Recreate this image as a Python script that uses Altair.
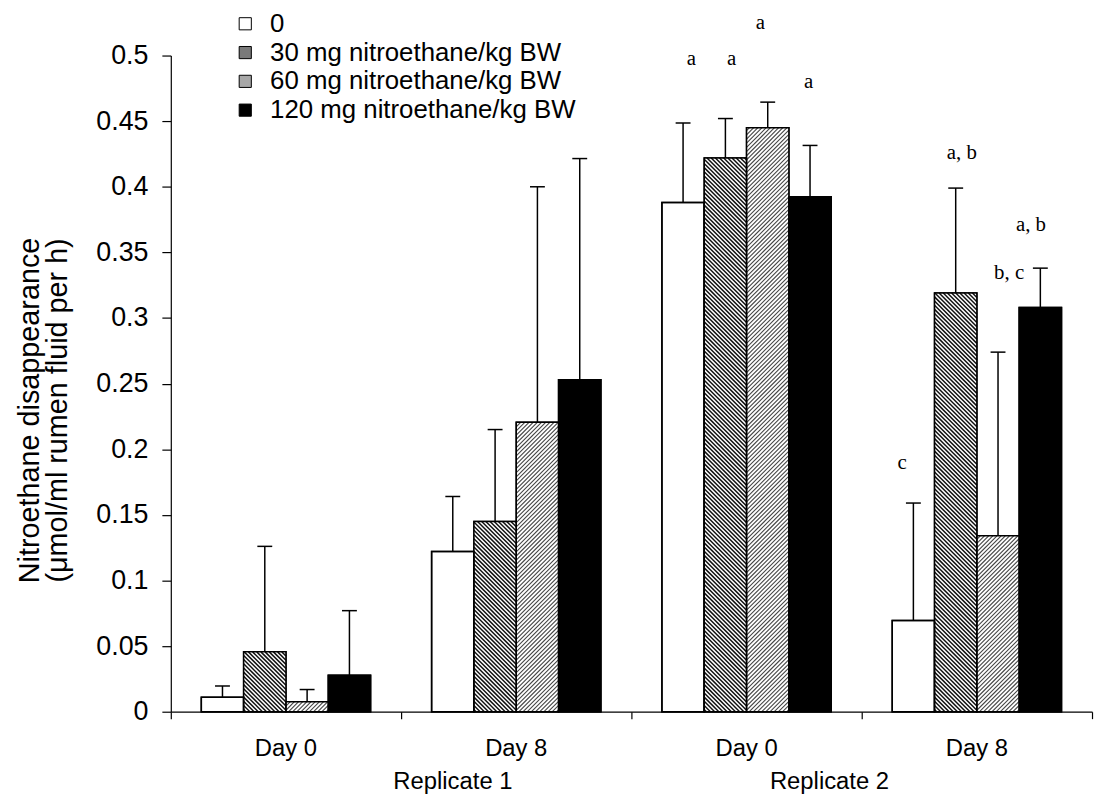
import altair as alt
import pandas as pd

# ---------------- data ----------------
groups = ["Day 0", "Day 8", "Day 0", "Day 8"]
replicates = ["Replicate 1", "Replicate 2"]
replicate_pos = [1.225, 2.86]          # label anchor, in category units

series = ["0", "30 mg nitroethane/kg BW", "60 mg nitroethane/kg BW", "120 mg nitroethane/kg BW"]

mean_0 = [0.011, 0.122, 0.388, 0.0695]
mean_30 = [0.0456, 0.145, 0.422, 0.319]
mean_60 = [0.0076, 0.2205, 0.445, 0.134]
mean_120 = [0.0277, 0.253, 0.3925, 0.308]

se_0 = [0.0086, 0.042, 0.0606, 0.0895]
se_30 = [0.0804, 0.070, 0.030, 0.080]
se_60 = [0.0093, 0.1795, 0.0195, 0.140]
se_120 = [0.0493, 0.1685, 0.039, 0.030]

letter_text = ["a", "a", "a", "a", "c", "a, b", "b, c", "a, b"]
letter_x = [2.26, 2.435, 2.56, 2.77, 3.175, 3.435, 3.64, 3.735]
letter_y = [0.4977, 0.4977, 0.5245, 0.480, 0.1896, 0.426, 0.334, 0.371]

yticks = [0, 0.05, 0.1, 0.15, 0.2, 0.25, 0.3, 0.35, 0.4, 0.45, 0.5]

# ---------------- layout ----------------
W, H = 928, 661
SX = W / 4.0          # px per category unit
SY = H / 0.5          # px per y unit
BW = 43 / 234         # bar width in category units

means = [mean_0, mean_30, mean_60, mean_120]
ses = [se_0, se_30, se_60, se_120]

rows = []
for i in range(4):
    for j, s in enumerate(series):
        x0 = i + 0.5 - 2 * BW + j * BW
        rows.append(dict(series=s, x0=x0, x1=x0 + BW, xc=x0 + BW / 2,
                         v=means[j][i], top=means[j][i] + ses[j][i], base=0.0))
bars = pd.DataFrame(rows)


def hatch_lines(x0, x1, v, kind, step):
    w = (x1 - x0) * SX
    h = v * SY
    out = []
    if kind == "back":      # "\" lines
        c = step / 2
        while c < w + h:
            ua, ub = max(0.0, c - h), min(w, c)
            if ub > ua:
                out.append(dict(kind=kind, hx0=x0 + ua / SX, hy0=(c - ua) / SY,
                                hx1=x0 + ub / SX, hy1=(c - ub) / SY))
            c += step
    else:                   # "/" lines
        c = -w + step / 2
        while c < h:
            ua, ub = max(0.0, -c), min(w, h - c)
            if ub > ua:
                out.append(dict(kind=kind, hx0=x0 + ua / SX, hy0=(ua + c) / SY,
                                hx1=x0 + ub / SX, hy1=(ub + c) / SY))
            c += step
    return out


hrows = []
for _, r in bars.iterrows():
    if r.series == series[1]:
        hrows += hatch_lines(r.x0, r.x1, r.v, "back", 4.2)
    elif r.series == series[2]:
        hrows += hatch_lines(r.x0, r.x1, r.v, "fwd", 4.2)
hatch_df = pd.DataFrame(hrows)

x_scale = alt.Scale(domain=[0, 4], nice=False, zero=False)
y_scale = alt.Scale(domain=[0, 0.5], nice=False)

bar = alt.Chart(bars).mark_rect(stroke="black", strokeWidth=1.5).encode(
    x=alt.X("x0:Q", scale=x_scale, title=None,
            axis=alt.Axis(values=[0, 1, 2, 3, 4], labels=False, tickSize=7,
                          grid=False, domainColor="black", tickColor="black",
                          domainWidth=1.2, tickWidth=1.2)),
    x2="x1:Q",
    y=alt.Y("v:Q", scale=y_scale,
            title=["Nitroethane disappearance", "(\u03bcmol/ml rumen fluid per h)"],
            axis=alt.Axis(values=yticks, format="~g", tickSize=9, labelPadding=14,
                          labelFontSize=27, labelColor="black", grid=False,
                          domainColor="black", tickColor="black",
                          domainWidth=1.2, tickWidth=1.2,
                          titleFontSize=29, titleFontWeight="normal",
                          titleColor="black", titleX=-142, titleY=357,
                          titleAngle=270, titleAlign="center",
                          titleBaseline="middle", titleLineHeight=28)),
    y2="base:Q",
    fill=alt.Fill("series:N", sort=series,
                  scale=alt.Scale(domain=series,
                                  range=["white", "#7a7a7a", "#a8a8a8", "black"]),
                  legend=alt.Legend(title=None, orient="none", legendX=62, legendY=-45,
                                    symbolType="square", symbolSize=150,
                                    symbolStrokeColor="black", symbolStrokeWidth=1,
                                    labelFontSize=26, labelColor="black",
                                    labelOffset=12, rowPadding=3, padding=0,
                                    labelLimit=600)),
)

cover = alt.Chart(bars[bars.series.isin(series[1:3])]).mark_rect(fill="white").encode(
    x="x0:Q", x2="x1:Q", y="v:Q", y2="base:Q")

hatch = alt.Chart(hatch_df).mark_rule().encode(
    x="hx0:Q", x2="hx1:Q", y="hy0:Q", y2="hy1:Q",
    color=alt.Color("kind:N", scale=alt.Scale(domain=["back", "fwd"],
                                              range=["#111111", "#444444"]), legend=None),
    strokeWidth=alt.StrokeWidth("kind:N", scale=alt.Scale(domain=["back", "fwd"],
                                                          range=[1.5, 1.1]), legend=None),
)

outline = alt.Chart(bars).mark_rect(fill="transparent", stroke="black", strokeWidth=1.5).encode(
    x="x0:Q", x2="x1:Q", y="v:Q", y2="base:Q")

err = alt.Chart(bars).mark_rule(color="black", strokeWidth=1.5).encode(
    x="xc:Q", y="v:Q", y2="top:Q")

cap = alt.Chart(bars).mark_tick(orient="horizontal", size=15, thickness=1.5,
                                color="black", opacity=1).encode(
    x="xc:Q", y="top:Q")

day_df = pd.DataFrame({"x": [0.5, 1.5, 2.5, 3.5], "label": groups})
day_text = alt.Chart(day_df).mark_text(fontSize=24, baseline="middle", color="black").encode(
    x="x:Q", y=alt.value(H + 38), text="label:N")

rep_df = pd.DataFrame({"x": replicate_pos, "label": replicates})
rep_text = alt.Chart(rep_df).mark_text(fontSize=24, baseline="middle", color="black").encode(
    x="x:Q", y=alt.value(H + 71), text="label:N")

let_df = pd.DataFrame({"x": letter_x, "y": letter_y, "label": letter_text})
let_text = alt.Chart(let_df).mark_text(font="Liberation Serif", fontSize=21,
                                       baseline="middle", color="black").encode(
    x="x:Q", y="y:Q", text="label:N")

chart = alt.layer(bar, cover, hatch, outline, err, cap, day_text, rep_text, let_text).properties(
    width=W, height=H,
    padding={"left": 164, "top": 45, "right": 2, "bottom": 80},
    autosize=alt.AutoSizeParams(type="none"),
    background="white",
).configure(font="Liberation Sans").configure_view(stroke=None).configure_axis(grid=False)

chart.save("out.html", embed_options={"renderer": "svg", "actions": False})
